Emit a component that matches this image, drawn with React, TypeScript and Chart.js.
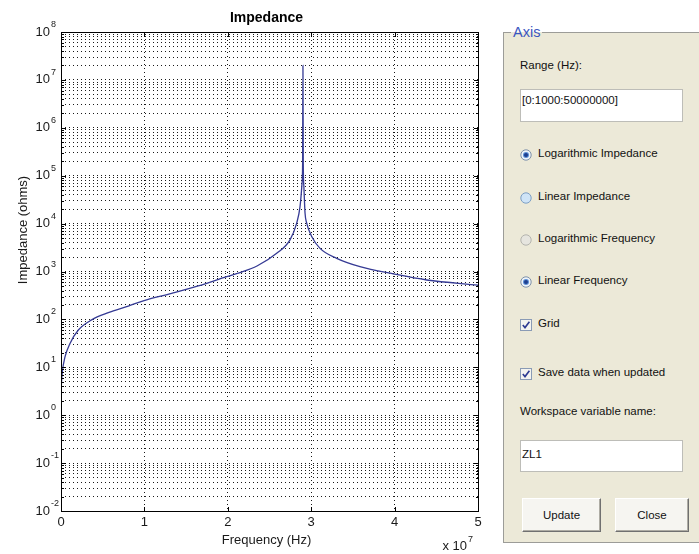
import React, { useEffect, useRef } from 'react';
import { Chart, registerables } from 'chart.js';

Chart.register(...registerables);

// ---------------- data ----------------
const freqHz = [
  0, 0.005e7, 0.016e7, 0.048e7, 0.108e7, 0.208e7, 0.368e7, 0.567e7, 0.807e7, 0.987e7,
  1.327e7, 1.646e7, 1.987e7, 2.146e7, 2.35e7, 2.586e7, 2.746e7, 2.826e7, 2.866e7, 2.89e7,
  2.897e7, 2.901e7, 2.905e7, 2.912e7, 2.926e7, 2.946e7, 3.006e7, 3.106e7, 3.306e7, 3.585e7,
  3.985e7, 4.385e7, 5.0e7,
];
const impedanceOhms = [
  2.5, 4.5, 8, 16.5, 31.5, 60, 98, 138, 190, 245,
  350, 500, 780, 950, 1300, 2400, 4570, 10200, 22600, 69000,
  180000, 20000000, 180000, 60000, 16600, 10200, 5400, 3040, 1880, 1260,
  890, 665, 520,
];
const xTickValues = [0, 1e7, 2e7, 3e7, 4e7, 5e7];
const xTickLabels = ['0', '1', '2', '3', '4', '5'];
const xExponentBase = 'x 10';
const xExponent = '7';
const yDecadeExponents = [-2, -1, 0, 1, 2, 3, 4, 5, 6, 7, 8];
const chartTitle = 'Impedance';
const xAxisTitle = 'Frequency (Hz)';
const yAxisTitle = 'Impedance (ohms)';

const rangeText = '[0:1000:50000000]';
const varText = 'ZL1';

// ---------------- derived ----------------
const yTickValues: number[] = [];
yDecadeExponents.forEach((e, i) => {
  for (let m = 1; m <= 9; m++) {
    if (i === yDecadeExponents.length - 1 && m > 1) break;
    yTickValues.push(Number((m * Math.pow(10, e)).toPrecision(3)));
  }
});
const isDecade = (v: number) => {
  const l = Math.log10(v);
  return Math.abs(l - Math.round(l)) < 1e-6;
};

const CANVAS_W = 495;
const CANVAS_H = 554;
const FONT = '"Liberation Sans", Arial, Helvetica, sans-serif';
const TXT = '#1a1a1a';
const GRID = 'rgba(0,0,0,0.9)';

const matlabAxes = {
  id: 'matlabAxes',
  afterDraw(chart: any) {
    const { ctx, chartArea: a, scales } = chart;
    const xs = scales.x;
    const ys = scales.y;
    const L = Math.round(a.left);
    const R = Math.round(a.right);
    const T = Math.round(a.top);
    const B = Math.round(a.bottom);
    ctx.save();
    ctx.strokeStyle = '#000';
    ctx.lineWidth = 1;
    ctx.strokeRect(L + 0.5, T + 0.5, R - L, B - T);

    // inner tick marks
    ctx.beginPath();
    yTickValues.forEach((v) => {
      const py = Math.round(ys.getPixelForValue(v)) + 0.5;
      const len = isDecade(v) ? 5 : 3;
      ctx.moveTo(L, py); ctx.lineTo(L + len, py);
      ctx.moveTo(R + 1, py); ctx.lineTo(R + 1 - len, py);
    });
    xTickValues.forEach((v) => {
      const px = Math.round(xs.getPixelForValue(v)) + 0.5;
      ctx.moveTo(px, B + 1); ctx.lineTo(px, B + 1 - 5);
      ctx.moveTo(px, T); ctx.lineTo(px, T + 5);
    });
    ctx.stroke();

    ctx.fillStyle = TXT;
    // y labels 10^k
    yDecadeExponents.forEach((e) => {
      const py = ys.getPixelForValue(Math.pow(10, e));
      ctx.font = `13px ${FONT}`;
      ctx.textAlign = 'right';
      ctx.textBaseline = 'alphabetic';
      ctx.fillText('10', L - 11, py + 3.5);
      ctx.font = `9px ${FONT}`;
      ctx.textAlign = 'left';
      ctx.fillText(String(e), L - 10, py - 5);
    });
    // x labels
    ctx.font = `13px ${FONT}`;
    ctx.textAlign = 'center';
    xTickValues.forEach((v, i) => {
      const px = xs.getPixelForValue(v);
      ctx.fillText(xTickLabels[i], px, B + 15);
    });
    // x exponent
    ctx.textAlign = 'right';
    ctx.fillText(xExponentBase, R - 11, B + 39);
    ctx.font = `9px ${FONT}`;
    ctx.textAlign = 'left';
    ctx.fillText(xExponent, R - 10, B + 31);

    const cx = (a.left + a.right) / 2 - 3;
    // x title
    ctx.font = `13px ${FONT}`;
    ctx.textAlign = 'center';
    ctx.fillText(xAxisTitle, cx, B + 33);
    // title
    ctx.font = `bold 14px ${FONT}`;
    ctx.fillStyle = '#000';
    ctx.fillText(chartTitle, cx, T - 10);
    // y title
    ctx.fillStyle = TXT;
    ctx.font = `13px ${FONT}`;
    ctx.translate(27, 230);
    ctx.rotate(-Math.PI / 2);
    ctx.textAlign = 'center';
    ctx.fillText(yAxisTitle, 0, 0);
    ctx.restore();
  },
};

// ---------------- panel widgets ----------------
const PFONT = `11.5px ${FONT}`;
const BEIGE = '#ECE9D8';

function Label({ x, cy, text }: { x: number; cy: number; text: string }) {
  return (
    <div style={{ position: 'absolute', left: x, top: cy - 8, height: 16, lineHeight: '16px', font: PFONT, color: '#111', whiteSpace: 'nowrap' }}>{text}</div>
  );
}

function Radio({ cy, kind, text }: { cy: number; kind: 'on' | 'hover' | 'off'; text: string }) {
  const fill = kind === 'hover' ? '#cfe4f7' : kind === 'off' ? '#e6e5df' : '#eef3f9';
  const stroke = kind === 'hover' ? '#7d9fc4' : kind === 'off' ? '#b4b4ae' : '#7f91a8';
  return (
    <>
      <svg width={12} height={12} style={{ position: 'absolute', left: 520, top: cy - 6 }}>
        <circle cx={6} cy={6} r={5.2} fill={fill} stroke={stroke} strokeWidth={1} />
        {kind === 'on' && <circle cx={6} cy={6} r={3} fill="#5b8fd6" />}
        {kind === 'on' && <circle cx={6} cy={6} r={2} fill="#1e3f8f" />}
      </svg>
      <Label x={538} cy={cy} text={text} />
    </>
  );
}

function Check({ cy, text }: { cy: number; text: string }) {
  return (
    <>
      <svg width={12} height={12} style={{ position: 'absolute', left: 520, top: cy - 6 }}>
        <rect x={0.5} y={0.5} width={11} height={11} fill="#f4f4f0" stroke="#8a9bb5" strokeWidth={1} />
        <path d="M2.8 6 L5 8.6 L9.4 2.8" fill="none" stroke="#2d3b92" strokeWidth={1.6} />
      </svg>
      <Label x={538} cy={cy} text={text} />
    </>
  );
}

function Edit({ top, height, text, textCy }: { top: number; height: number; text: string; textCy: number }) {
  return (
    <div style={{ position: 'absolute', left: 520, top, width: 163, height, background: '#fff', border: '1px solid #bdbdb8', boxSizing: 'border-box' }}>
      <div style={{ position: 'absolute', left: 1, top: textCy - top - 9, height: 16, lineHeight: '16px', font: PFONT, color: '#111', whiteSpace: 'nowrap' }}>{text}</div>
    </div>
  );
}

function Button({ left, width, text }: { left: number; width: number; text: string }) {
  return (
    <div style={{
      position: 'absolute', left, top: 498, width, height: 34, boxSizing: 'border-box',
      background: '#f6f5f1', borderStyle: 'solid', borderWidth: 1,
      borderColor: '#ffffff #707070 #707070 #ffffff',
      boxShadow: 'inset -1px -1px 0 #aeaca4',
      font: PFONT, color: '#111', textAlign: 'center', lineHeight: '32px',
    }}>{text}</div>
  );
}

export default function App() {
  const canvasRef = useRef<HTMLCanvasElement | null>(null);

  useEffect(() => {
    const canvas = canvasRef.current;
    if (!canvas) return;
    const points = freqHz.map((f, i) => ({ x: f, y: impedanceOhms[i] }));
    const chart = new Chart(canvas, {
      type: 'line',
      data: {
        datasets: [
          {
            data: points,
            borderColor: '#353a94',
            borderWidth: 1.3,
            pointRadius: 0,
            cubicInterpolationMode: 'monotone',
            fill: false,
          },
        ],
      },
      options: {
        animation: false,
        responsive: false,
        maintainAspectRatio: false,
        devicePixelRatio: 1,
        events: [],
        layout: { padding: { left: 0, top: 32, right: CANVAS_W - 478, bottom: 0 } },
        plugins: {
          legend: { display: false },
          tooltip: { enabled: false },
          title: { display: false },
        },
        scales: {
          x: {
            type: 'linear',
            min: 0,
            max: 5e7,
            afterBuildTicks: (s: any) => { s.ticks = xTickValues.map((v) => ({ value: v })); },
            afterFit: (s: any) => { s.height = CANVAS_H - 511; },
            ticks: { display: false },
            grid: { color: GRID, lineWidth: 1, drawTicks: false },
            border: { display: false, dash: [1, 3] },
          },
          y: {
            type: 'logarithmic',
            min: 0.01,
            max: 1e8,
            afterBuildTicks: (s: any) => { s.ticks = yTickValues.map((v) => ({ value: v })); },
            afterFit: (s: any) => { s.width = 61; },
            ticks: { display: false },
            grid: { color: GRID, lineWidth: 1, drawTicks: false },
            border: { display: false, dash: [1, 3] },
          },
        },
      } as any,
      plugins: [matlabAxes],
    });
    return () => chart.destroy();
  }, []);

  return (
    <div style={{ position: 'fixed', left: 0, top: 0, width: 699, height: 554, background: '#fff', overflow: 'hidden' }}>
      <canvas ref={canvasRef} width={CANVAS_W} height={CANVAS_H} style={{ position: 'absolute', left: 0, top: 0, width: CANVAS_W, height: CANVAS_H }} />
      {/* group box */}
      <div style={{ position: 'absolute', left: 503, top: 32, width: 220, height: 511, background: BEIGE, border: '1px solid #9c9c98', boxSizing: 'border-box' }} />
      <div style={{
        position: 'absolute', left: 511, top: 24, height: 16, padding: '0 2px', lineHeight: '16px',
        font: `14.5px ${FONT}`, color: '#3a55c0',
        background: `linear-gradient(to bottom, #ffffff 0px, #ffffff 8px, ${BEIGE} 8px, ${BEIGE} 16px)`,
      }}>Axis</div>
      <Label x={520} cy={67} text="Range (Hz):" />
      <Edit top={89} height={33} text={rangeText} textCy={102} />
      <Radio cy={155} kind="on" text="Logarithmic Impedance" />
      <Radio cy={198} kind="hover" text="Linear Impedance" />
      <Radio cy={240} kind="off" text="Logarithmic Frequency" />
      <Radio cy={282} kind="on" text="Linear Frequency" />
      <Check cy={325} text="Grid" />
      <Check cy={374} text="Save data when updated" />
      <Label x={520} cy={413} text="Workspace variable name:" />
      <Edit top={440} height={32} text={varText} textCy={456} />
      <Button left={522} width={79} text="Update" />
      <Button left={615} width={74} text="Close" />
    </div>
  );
}
